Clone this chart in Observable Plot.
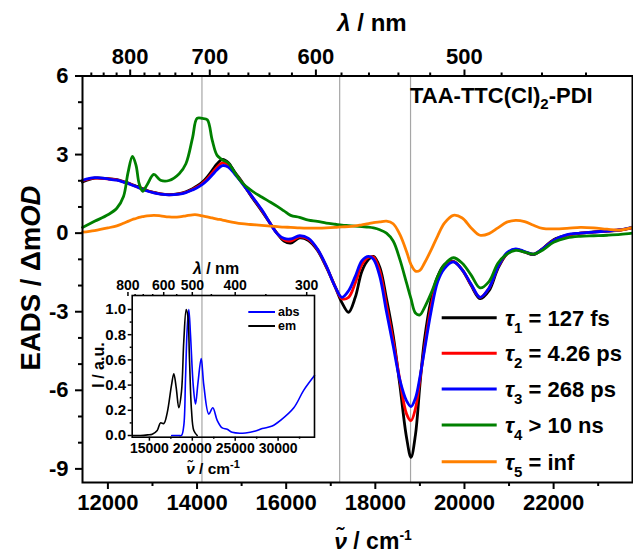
<!DOCTYPE html>
<html>
<head>
<meta charset="utf-8">
<script src="https://cdn.jsdelivr.net/npm/d3@7"></script>
<script src="https://cdn.jsdelivr.net/npm/@observablehq/plot@0.6"></script>
<style>
  html, body { margin: 0; padding: 0; background: #fff; }
  #wrap { position: relative; width: 633px; height: 554px; overflow: hidden; }
  #wrap svg { position: absolute; left: 0; top: 0; }
  .lbl { font-family: "Liberation Sans", Arial, sans-serif; font-weight: bold; fill: #000; }
</style>
</head>
<body>
<div id="wrap"></div>
<script>
// ---------- main chart data (EADS, ΔmOD vs wavenumber cm^-1) ----------
const wavenumber = [11430, 11700, 12000, 12200, 12350, 12450, 12550, 12630, 12700, 12780,
  12880, 13030, 13180, 13370, 13600, 13750, 13900, 14000, 14120, 14230,
  14340, 14450, 14570, 14700, 14850, 15000, 15200, 15450, 15650, 15800,
  15950, 16100, 16300, 16500, 16700, 16900, 17100, 17250, 17400, 17550,
  17700, 17850, 17960, 18100, 18250, 18400, 18550, 18700, 18800, 18900,
  19000, 19100, 19250, 19400, 19550, 19750, 19950, 20150, 20350, 20550,
  20750, 20950, 21150, 21350, 21550, 21750, 22000, 22300, 22600, 22900,
  23200, 23500, 23770];
const tau1 = [1.95, 2.10, 2.08, 2.04, 1.97, 1.92, 1.85, 1.80, 1.76, 1.70,
  1.63, 1.56, 1.50, 1.47, 1.51, 1.58, 1.70, 1.80, 1.95, 2.15,
  2.40, 2.65, 2.82, 2.70, 2.32, 1.98, 1.45, 0.85, 0.35, -0.02,
  -0.30, -0.38, -0.18, -0.28, -0.65, -1.30, -2.05, -2.65, -3.02, -2.45,
  -1.45, -1.00, -0.89, -1.30, -2.50, -3.90, -5.80, -7.80, -8.56, -7.70,
  -5.80, -4.10, -2.55, -1.65, -1.20, -1.08, -1.40, -2.00, -2.50, -2.20,
  -1.35, -0.80, -0.62, -0.72, -0.82, -0.60, -0.25, -0.08, 0.00, 0.05,
  0.08, 0.12, 0.22];
const tau2 = [2.00, 2.10, 2.07, 2.03, 1.96, 1.90, 1.84, 1.78, 1.74, 1.68,
  1.62, 1.55, 1.50, 1.46, 1.50, 1.56, 1.67, 1.76, 1.90, 2.08,
  2.30, 2.52, 2.68, 2.60, 2.28, 1.95, 1.47, 0.88, 0.35, -0.02,
  -0.25, -0.30, -0.14, -0.24, -0.62, -1.27, -2.05, -2.50, -2.45, -1.90,
  -1.20, -0.92, -0.92, -1.45, -2.75, -4.10, -5.60, -6.90, -7.16, -6.70,
  -5.60, -4.40, -2.80, -1.75, -1.28, -1.09, -1.40, -1.97, -2.45, -2.10,
  -1.30, -0.78, -0.62, -0.72, -0.80, -0.60, -0.27, -0.08, 0.00, 0.04,
  0.08, 0.12, 0.20];
const tau3 = [2.02, 2.12, 2.07, 2.02, 1.95, 1.90, 1.83, 1.78, 1.73, 1.67,
  1.61, 1.54, 1.49, 1.46, 1.49, 1.55, 1.65, 1.73, 1.86, 2.02,
  2.22, 2.42, 2.58, 2.52, 2.25, 1.93, 1.48, 0.90, 0.35, -0.02,
  -0.20, -0.22, -0.10, -0.20, -0.60, -1.25, -2.05, -2.45, -2.20, -1.65,
  -1.05, -0.89, -1.00, -1.65, -3.00, -4.30, -5.60, -6.40, -6.62, -6.30,
  -5.50, -4.50, -3.00, -1.85, -1.35, -1.10, -1.40, -1.95, -2.45, -2.10,
  -1.30, -0.75, -0.60, -0.70, -0.80, -0.60, -0.28, -0.06, 0.00, 0.04,
  0.08, 0.13, 0.23];
const tau4 = [0.22, 0.45, 0.70, 0.95, 1.40, 2.30, 2.93, 2.60, 1.90, 1.60,
  1.85, 2.24, 2.02, 2.01, 2.27, 2.65, 3.65, 4.38, 4.38, 4.33,
  3.55, 2.97, 2.80, 2.68, 2.30, 1.95, 1.65, 1.38, 1.18, 1.02,
  0.85, 0.68, 0.60, 0.50, 0.45, 0.38, 0.34, 0.31, 0.29, 0.27,
  0.25, 0.23, 0.20, 0.13, 0.00, -0.30, -1.00, -1.90, -2.50, -3.05,
  -3.12, -2.85, -2.30, -1.65, -1.20, -0.94, -1.15, -1.60, -2.09, -1.85,
  -1.15, -0.80, -0.66, -0.72, -0.80, -0.65, -0.35, -0.18, -0.12, -0.10,
  -0.08, -0.05, 0.00];
const tau5 = [0.04, 0.10, 0.20, 0.28, 0.38, 0.45, 0.52, 0.56, 0.60, 0.63,
  0.66, 0.68, 0.66, 0.62, 0.62, 0.66, 0.70, 0.70, 0.66, 0.62,
  0.58, 0.54, 0.50, 0.45, 0.40, 0.36, 0.33, 0.30, 0.27, 0.25,
  0.23, 0.22, 0.20, 0.19, 0.19, 0.20, 0.22, 0.24, 0.25, 0.28,
  0.32, 0.36, 0.40, 0.43, 0.46, 0.36, -0.05, -0.70, -1.20, -1.45,
  -1.42, -1.15, -0.65, -0.10, 0.38, 0.68, 0.58, 0.20, -0.08, -0.02,
  0.20, 0.42, 0.49, 0.44, 0.30, 0.18, 0.16, 0.18, 0.22, 0.20,
  0.15, 0.12, 0.22];
const seriesNames = ["τ1 = 127 fs", "τ2 = 4.26 ps", "τ3 = 268 ps", "τ4 > 10 ns", "τ5 = inf"];
const seriesColors = ["#000000", "#ff0000", "#0000ff", "#008000", "#ff8000"];
const referenceLines = [14110, 17200, 18790];

// main axes ticks
const xMajorTicks = [12000, 14000, 16000, 18000, 20000, 22000];
const xMinorTicks = [13000, 15000, 17000, 19000, 21000, 23000];
const yMajorTicks = [-9, -6, -3, 0, 3, 6];
const yMinorTicks = [-8, -7, -5, -4, -2, -1, 1, 2, 4, 5];
const nmMajorTicks = [800, 700, 600, 500];
const nmMinorTicks = [860, 840, 820, 780, 760, 740, 720, 680, 660, 640, 620, 580, 560, 540, 520, 480, 460, 440];

// ---------- inset data (normalized abs / em) ----------
const absWavenumber = [17600, 18400, 18741, 19009, 19207, 19406, 19592, 19790, 20105, 20373,
  20664, 21037, 21340, 21923, 22389, 22902, 23485, 24068, 24650, 26200,
  27366, 28147, 29312, 30280, 31830, 32995, 34242];
const absIntensity = [0.0, 0.0, 0.0, 0.08, 0.45, 0.85, 1.0, 0.8, 0.4, 0.25,
  0.42, 0.61, 0.4, 0.17, 0.22, 0.12, 0.06, 0.05, 0.025, 0.02,
  0.035, 0.055, 0.075, 0.12, 0.22, 0.36, 0.476];
const emWavenumber = [12995, 13963, 14800, 15326, 15909, 16294, 16678, 17075, 17576, 17844,
  18124, 18427, 18741, 19009, 19289, 19476, 19674, 19907, 20175, 20571];
const emIntensity = [0.0, 0.0, 0.005, 0.01, 0.04, 0.1, 0.095, 0.18, 0.4, 0.49,
  0.38, 0.22, 0.35, 0.75, 1.0, 0.95, 0.6, 0.2, 0.04, 0.0];
const insetXMajor = [15000, 20000, 25000, 30000];
const insetXMinor = [17500, 22500, 27500, 32500];
const insetYMajor = [0, 0.2, 0.4, 0.6, 0.8, 1.0];
const insetYMinor = [0.1, 0.3, 0.5, 0.7, 0.9];
const insetNmMajor = [800, 600, 500, 400, 300];
const insetNmMinor = [750, 700, 650, 550, 450, 350];

// ---------- build ----------
const seriesValues = [tau1, tau2, tau3, tau4, tau5];
const drawOrder = [0, 1, 2, 3, 4];
const lineMarks = drawOrder.map(i =>
  Plot.line(wavenumber.map((w, j) => ({w, v: seriesValues[i][j]})),
    {x: "w", y: "v", stroke: seriesColors[i], strokeWidth: 2.8, curve: "catmull-rom"}));

const font = "'Liberation Sans', Arial, sans-serif";
const fmt = d => String(d);
const toNm = d => String(Math.round(1e7 / d));

const main = Plot.plot({
  width: 633, height: 554,
  marginLeft: 82, marginRight: 1, marginTop: 75.5, marginBottom: 72,
  x: {domain: [11430, 23770]},
  y: {domain: [-9.52, 6]},
  style: {fontFamily: font, fontWeight: "bold", fontSize: "22px", background: "transparent", color: "#000", overflow: "visible"},
  marks: [
    Plot.ruleX(referenceLines, {stroke: "#a6a6a6", strokeWidth: 1.2}),
    ...lineMarks,
    Plot.frame({stroke: "#000", strokeWidth: 2}),
    Plot.axisX(xMajorTicks, {anchor: "bottom", tickSize: 7, tickPadding: 5, tickFormat: fmt, strokeWidth: 2, label: null}),
    Plot.axisX(xMinorTicks, {anchor: "bottom", tickSize: 4, tickFormat: () => "", strokeWidth: 2, label: null}),
    Plot.axisX(nmMajorTicks.map(n => 1e7 / n), {anchor: "top", tickSize: 7, tickPadding: 5, tickFormat: toNm, strokeWidth: 2, label: null}),
    Plot.axisX(nmMinorTicks.map(n => 1e7 / n), {anchor: "top", tickSize: 4, tickFormat: () => "", strokeWidth: 2, label: null}),
    Plot.axisY(yMajorTicks, {anchor: "left", tickSize: 7, tickPadding: 7, tickFormat: fmt, strokeWidth: 2, label: null}),
    Plot.axisY(yMinorTicks, {anchor: "left", tickSize: 4, tickFormat: () => "", strokeWidth: 2, label: null})
  ]
});

const inset = Plot.plot({
  width: 633, height: 554,
  marginLeft: 131.7, marginRight: 319, marginTop: 295, marginBottom: 117.3,
  x: {domain: [12995, 34242]},
  y: {domain: [-0.0135, 1.111]},
  style: {fontFamily: font, fontWeight: "bold", fontSize: "14px", background: "transparent", color: "#000", overflow: "visible"},
  marks: [
    Plot.line(absWavenumber.map((w, j) => ({w, v: absIntensity[j]})), {x: "w", y: "v", stroke: "#0000ff", strokeWidth: 1.6, curve: "catmull-rom"}),
    Plot.line(emWavenumber.map((w, j) => ({w, v: emIntensity[j]})), {x: "w", y: "v", stroke: "#000", strokeWidth: 1.6, curve: "catmull-rom"}),
    Plot.frame({stroke: "#000", strokeWidth: 1.6}),
    Plot.axisX(insetXMajor, {anchor: "bottom", tickSize: 4, tickPadding: 2, tickFormat: fmt, strokeWidth: 1.5, label: null}),
    Plot.axisX(insetXMinor, {anchor: "bottom", tickSize: 2, tickFormat: () => "", strokeWidth: 1.5, label: null}),
    Plot.axisX(insetNmMajor.map(n => 1e7 / n), {anchor: "top", tickSize: 4, tickPadding: 2, tickFormat: toNm, strokeWidth: 1.5, label: null}),
    Plot.axisX(insetNmMinor.map(n => 1e7 / n), {anchor: "top", tickSize: 2, tickFormat: () => "", strokeWidth: 1.5, label: null}),
    Plot.axisY(insetYMajor, {anchor: "left", tickSize: 4, tickPadding: 2, tickFormat: d3.format(".1f"), fontSize: 15, strokeWidth: 1.5, label: null}),
    Plot.axisY(insetYMinor, {anchor: "left", tickSize: 2, tickFormat: () => "", strokeWidth: 1.5, label: null})
  ]
});

const wrap = document.getElementById("wrap");
wrap.appendChild(main);
wrap.appendChild(inset);

// ---------- text overlay: titles, legend ----------
const legendY = [317.7, 353.3, 389, 425, 461.7];
const ns = "http://www.w3.org/2000/svg";
const overlay = document.createElementNS(ns, "svg");
overlay.setAttribute("width", 633);
overlay.setAttribute("height", 554);
let html = "";
// main axis titles
html += `<text class="lbl" font-size="27.5" text-anchor="middle" transform="translate(40,278) rotate(-90)">EADS / Δm<tspan font-style="italic">OD</tspan></text>`;
html += `<text class="lbl" font-size="23" text-anchor="middle" x="373" y="549"><tspan font-style="italic">ν̃</tspan> / cm<tspan font-size="14" dy="-9">-1</tspan></text>`;
html += `<text class="lbl" font-size="24" text-anchor="middle" x="372" y="31"><tspan font-style="italic">λ</tspan> / nm</text>`;
html += `<text class="lbl" font-size="22" x="410" y="103">TAA-TTC(Cl)<tspan font-size="15" dy="6">2</tspan><tspan dy="-6">-PDI</tspan></text>`;
// legend
seriesNames.forEach((name, i) => {
  const y = legendY[i];
  const [sym, rest] = [name.slice(0, 2), name.slice(2)];
  html += `<line x1="441.7" x2="496.7" y1="${y}" y2="${y}" stroke="${seriesColors[i]}" stroke-width="3"/>`;
  html += `<text class="lbl" font-size="22" x="505" y="${y + 8}"><tspan font-style="italic">${sym[0]}</tspan><tspan font-size="15" dy="7">${sym[1]}</tspan><tspan dy="-7">${rest}</tspan></text>`;
});
// inset titles and legend
html += `<text class="lbl" font-size="16" text-anchor="middle" x="216" y="274"><tspan font-style="italic">λ</tspan> / nm</text>`;
html += `<text class="lbl" font-size="16" text-anchor="middle" transform="translate(104,365) rotate(-90)">I / a.u.</text>`;
html += `<text class="lbl" font-size="15.5" text-anchor="middle" x="213" y="474"><tspan font-style="italic">ν̃</tspan> / cm<tspan font-size="11" dy="-6">-1</tspan></text>`;
html += `<line x1="248.3" x2="275" y1="312" y2="312" stroke="#0000ff" stroke-width="2"/>`;
html += `<text class="lbl" font-size="12.5" x="278" y="316.4">abs</text>`;
html += `<line x1="248.3" x2="275" y1="326" y2="326" stroke="#000" stroke-width="2"/>`;
html += `<text class="lbl" font-size="12.5" x="278" y="330.4">em</text>`;
overlay.innerHTML = html;
wrap.appendChild(overlay);
</script>
</body>
</html>
